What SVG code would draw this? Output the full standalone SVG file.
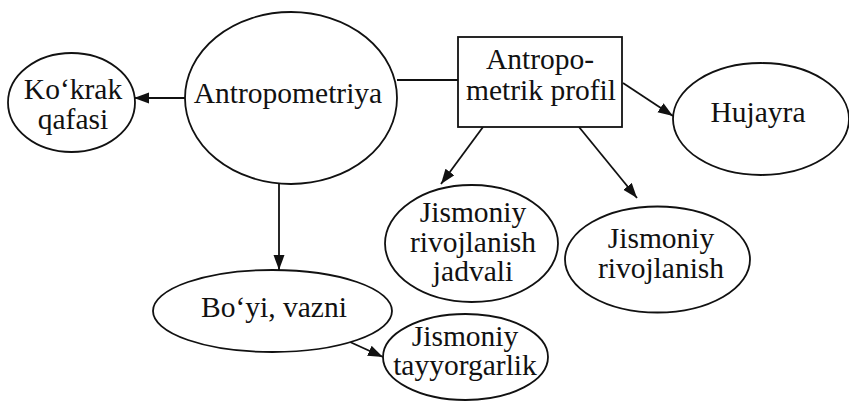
<svg xmlns="http://www.w3.org/2000/svg" width="849" height="401" viewBox="0 0 849 401">
<style>
.s{fill:#fff;stroke:#111;stroke-width:1.8}
.t{font-family:"Liberation Serif","Times New Roman",serif;font-size:29.5px;fill:#111;text-anchor:middle}
.c{stroke:#111;stroke-width:1.8;fill:none}
.a{marker-end:url(#ah)}
</style>
<defs>
<marker id="ah" markerUnits="userSpaceOnUse" markerWidth="16" markerHeight="12" refX="15" refY="5.5" orient="auto">
<path d="M0,0 L15,5.5 L0,11 z" fill="#111"/>
</marker>
</defs>
<rect width="849" height="401" fill="#fff"/>
<g id="connectors">
<line class="c a" x1="185" y1="98" x2="134" y2="98"/>
<line class="c" x1="397" y1="80" x2="458" y2="80"/>
<line class="c a" x1="279" y1="184" x2="279" y2="270"/>
<line class="c a" x1="623" y1="83" x2="673" y2="116"/>
<line class="c a" x1="483" y1="127" x2="441" y2="184"/>
<line class="c a" x1="579" y1="127" x2="637" y2="198"/>
<line class="c a" x1="350" y1="342" x2="383" y2="357"/>
</g>
<g id="kokrak">
<ellipse class="s" cx="71.5" cy="102.5" rx="63.5" ry="49.5"/>
<text class="t" x="73" y="99">Ko‘krak</text>
<text class="t" x="73" y="129">qafasi</text>
</g>
<g id="antropometriya">
<ellipse class="s" cx="291" cy="98" rx="106" ry="86"/>
<text class="t" x="288" y="103">Antropometriya</text>
</g>
<g id="profil">
<rect class="s" x="458" y="37" width="164" height="90"/>
<text class="t" x="540" y="69">Antropo-</text>
<text class="t" x="541" y="100">metrik profil</text>
</g>
<g id="hujayra">
<ellipse class="s" cx="761" cy="119" rx="88" ry="56"/>
<text class="t" x="758" y="122">Hujayra</text>
</g>
<g id="jadvali">
<ellipse class="s" cx="471.5" cy="243.5" rx="86.5" ry="58.5"/>
<text class="t" x="473" y="222">Jismoniy</text>
<text class="t" x="473" y="252">rivojlanish</text>
<text class="t" x="473" y="281">jadvali</text>
</g>
<g id="rivojlanish">
<ellipse class="s" cx="657.5" cy="259.5" rx="92.5" ry="53"/>
<text class="t" x="661" y="248">Jismoniy</text>
<text class="t" x="661" y="278">rivojlanish</text>
</g>
<g id="boyi">
<ellipse class="s" cx="272.5" cy="311" rx="119.5" ry="41"/>
<text class="t" x="274" y="317">Bo‘yi, vazni</text>
</g>
<g id="tayyorgarlik">
<ellipse class="s" cx="465.5" cy="357" rx="82.5" ry="43"/>
<text class="t" x="465" y="346">Jismoniy</text>
<text class="t" x="465" y="375">tayyorgarlik</text>
</g>
</svg>
